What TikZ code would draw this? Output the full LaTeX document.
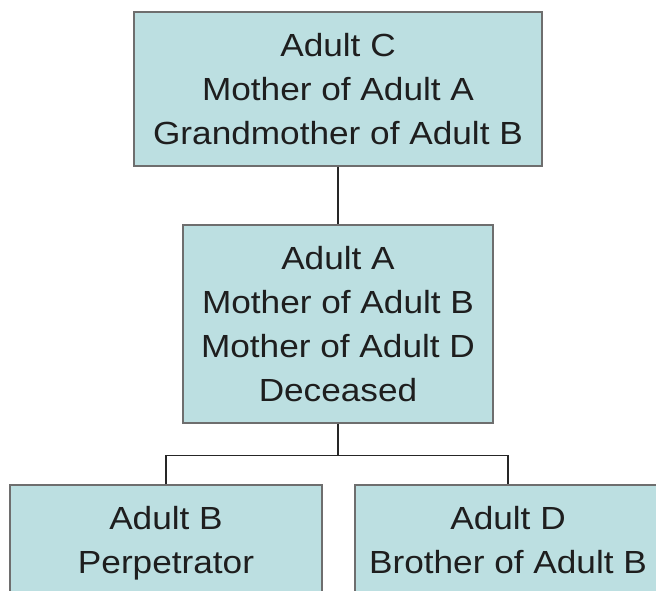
\documentclass[tikz,border=0pt]{standalone}
\usepackage{fontspec}
\setmainfont{Liberation Sans}[FakeStretch=1.1]
\definecolor{boxfill}{HTML}{BCDFE1}
\definecolor{boxline}{HTML}{6E6E6E}
\definecolor{txt}{HTML}{1E1E1E}
\begin{document}
\begin{tikzpicture}[x=1pt,y=-1pt,
  famnode/.style={draw=boxline, fill=boxfill, line width=1.4pt, inner sep=0pt,
    align=center, text=txt, text depth=0pt, font=\fontsize{32}{44}\selectfont},
  link/.style={draw=black!85, line width=1.4pt}]
\useasboundingbox (0,0) rectangle (656,590);
\node[famnode, minimum width=408, minimum height=154] (c) at (338,89)
  {Adult C\\Mother of Adult A\\Grandmother of Adult B};
\node[famnode, minimum width=310, minimum height=198] (a) at (338,324)
  {Adult A\\Mother of Adult B\\Mother of Adult D\\Deceased};
\node[famnode, minimum width=312, minimum height=109] (b) at (166,539.5)
  {Adult B\\Perpetrator};
\node[famnode, minimum width=306, minimum height=109] (d) at (508,539.5)
  {Adult D\\Brother of Adult B};
\draw[link] (c.south) -- (a.north);
\draw[link] (a.south) -- ++(0,32) coordinate (j);
\draw[link] (b.north) |- (j) -| (d.north);
\end{tikzpicture}
\end{document}
